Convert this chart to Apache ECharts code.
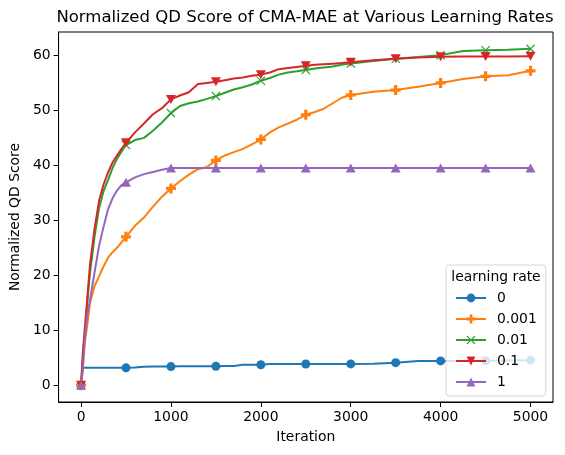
<!DOCTYPE html>
<html>
<head>
<meta charset="utf-8">
<script src="https://cdn.jsdelivr.net/npm/echarts@6/dist/echarts.min.js"></script>
<style>html,body{margin:0;padding:0;background:#fff}#c{width:565px;height:455px}</style>
</head>
<body>
<div id="c"></div>
<script>
// ---- data ----
const iterations = [0,20,40,70,100,150,200,250,300,350,400,450,500,600,700,800,900,1000,1100,1200,1300,1400,1500,1600,1700,1800,1900,2000,2100,2200,2300,2400,2500,2600,2700,2800,2900,3000,3250,3500,3750,4000,4250,4500,4750,5000];
const lr0 =    [0,3.15,3.15,3.15,3.15,3.15,3.15,3.15,3.15,3.15,3.15,3.15,3.15,3.2,3.35,3.38,3.38,3.38,3.45,3.45,3.45,3.45,3.45,3.5,3.5,3.7,3.72,3.72,3.85,3.85,3.85,3.85,3.85,3.86,3.86,3.87,3.87,3.87,3.9,4.1,4.38,4.42,4.45,4.45,4.5,4.55];
const lr0001 = [0,3.5,7.5,11,15,18,19.8,21.6,23.2,24.2,25.0,26.0,27.0,29.0,30.5,32.5,34.3,35.8,37.1,38.3,39.3,39.7,40.9,41.8,42.4,43.0,43.8,44.7,46.0,46.9,47.6,48.3,49.2,49.7,50.3,51.3,52.3,52.8,53.4,53.7,54.3,55.0,55.7,56.2,56.4,57.2];
const lr001 =  [0,5,9,15,20.5,27,32.2,35.3,37.3,39.5,41.2,42.5,43.7,44.6,45.0,46.3,47.8,49.5,50.8,51.3,51.6,52.1,52.6,53.2,53.8,54.2,54.7,55.4,55.9,56.5,56.9,57.1,57.35,57.6,57.8,58.0,58.3,58.55,59.0,59.4,59.7,60.05,60.8,60.95,61.05,61.2];
const lr01 =   [0,6,10,16,22,28.5,33.5,36.5,38.7,40.5,41.8,43.0,44.1,46.0,47.6,49.3,50.4,52.0,52.7,53.3,54.8,55.0,55.2,55.5,55.8,56.0,56.3,56.5,56.9,57.5,57.7,57.9,58.1,58.3,58.4,58.5,58.6,58.75,59.1,59.4,59.6,59.75,59.8,59.8,59.8,59.85];
const lr1 =    [0,3,8,12.8,15.5,20.5,25.3,28.8,32,34.0,35.4,36.4,36.9,37.8,38.4,38.8,39.2,39.5,39.5,39.5,39.5,39.5,39.5,39.5,39.5,39.5,39.5,39.5,39.5,39.5,39.5,39.5,39.5,39.5,39.5,39.5,39.5,39.5,39.5,39.5,39.5,39.5,39.5,39.5,39.5,39.5];
const seriesNames = ['0','0.001','0.01','0.1','1'];
const xTicks = [0,1000,2000,3000,4000,5000];
const yTicks = [0,10,20,30,40,50,60];
const markerEvery = 500;

// ---- style ----
const colors = ['#1f77b4','#ff7f0e','#2ca02c','#d62728','#9467bd'];
const symbols = [
  'circle',
  'path://M3.4,0 L6.6,0 L6.6,3.4 L10,3.4 L10,6.6 L6.6,6.6 L6.6,10 L3.4,10 L3.4,6.6 L0,6.6 L0,3.4 L3.4,3.4 Z',
  'path://M0,0.9 L0.9,0 L5,4.1 L9.1,0 L10,0.9 L5.9,5 L10,9.1 L9.1,10 L5,5.9 L0.9,10 L0,9.1 L4.1,5 Z',
  'path://M0,0.5 L10,0.5 L5,9.5 Z',
  'path://M0,9.5 L10,9.5 L5,0.5 Z'
];
const sizes = [9,10,9,10,10];
const values = [lr0, lr0001, lr001, lr01, lr1];
const FONT = 'DejaVu Sans';

const series = values.map((vals, i) => ({
  name: seriesNames[i],
  type: 'line',
  data: iterations.map((x, k) => [x, vals[k]]),
  symbol: symbols[i],
  symbolKeepAspect: true,
  symbolSize: (v) => (v[0] % markerEvery === 0 ? sizes[i] : 0),
  showSymbol: true,
  showAllSymbol: true,
  lineStyle: { color: colors[i], width: 2 },
  itemStyle: { color: colors[i], borderWidth: 0 },
  emphasis: { disabled: true },
  silent: true,
  animation: false
}));

const chart = echarts.init(document.getElementById('c'), null, { renderer: 'canvas' });
chart.setOption({
  animation: false,
  backgroundColor: '#fff',
  title: [
    { text: 'Normalized QD Score of CMA-MAE at Various Learning Rates', left: 300, textAlign: 'center', top: 4,
      textStyle: { fontFamily: FONT, fontSize: 16.5, fontWeight: 'normal', color: '#000' } },
    { text: 'learning rate', left: 491, textAlign: 'center', top: 265, z: 10,
      textStyle: { fontFamily: FONT, fontSize: 13.9, fontWeight: 'normal', color: '#000' } }
  ],
  grid: { left: 57, right: 12, top: 32, bottom: 53, show: true, borderColor: '#000', borderWidth: 1, backgroundColor: 'transparent' },
  xAxis: {
    type: 'value', min: -250, max: 5250,
    name: 'Iteration', nameLocation: 'middle', nameGap: 28,
    nameTextStyle: { fontFamily: FONT, fontSize: 13.9, color: '#000' },
    axisLine: { show: true, onZero: false, lineStyle: { color: '#000', width: 1 } },
    axisTick: { show: true, customValues: xTicks, length: 5, lineStyle: { color: '#000', width: 1 } },
    axisLabel: { customValues: xTicks, formatter: v => String(v), margin: 8, fontFamily: FONT, fontSize: 13.9, color: '#000' },
    splitLine: { show: false }
  },
  yAxis: {
    type: 'value', min: -3.06, max: 64.26,
    name: 'Normalized QD Score', nameLocation: 'middle', nameGap: 32, nameRotate: 90,
    nameTextStyle: { fontFamily: FONT, fontSize: 13.9, color: '#000' },
    axisLine: { show: true, onZero: false, lineStyle: { color: '#000', width: 1 } },
    axisTick: { show: true, customValues: yTicks, length: 5, lineStyle: { color: '#000', width: 1 } },
    axisLabel: { customValues: yTicks, formatter: v => String(v), margin: 8, fontFamily: FONT, fontSize: 13.9, color: '#000' },
    splitLine: { show: false }
  },
  legend: {
    orient: 'vertical', left: 446, top: 265,
    padding: [26, 9, 7, 9],
    itemWidth: 30, itemHeight: 11, itemGap: 7,
    backgroundColor: 'rgba(255,255,255,0.8)',
    borderColor: 'rgba(204,204,204,0.8)', borderWidth: 1, borderRadius: 3,
    textStyle: { fontFamily: FONT, fontSize: 13.9, color: '#000', lineHeight: 14, padding: [0,0,0,6] },
    selectedMode: false,
    data: seriesNames
  },
  series: series
});
</script>
</body>
</html>
